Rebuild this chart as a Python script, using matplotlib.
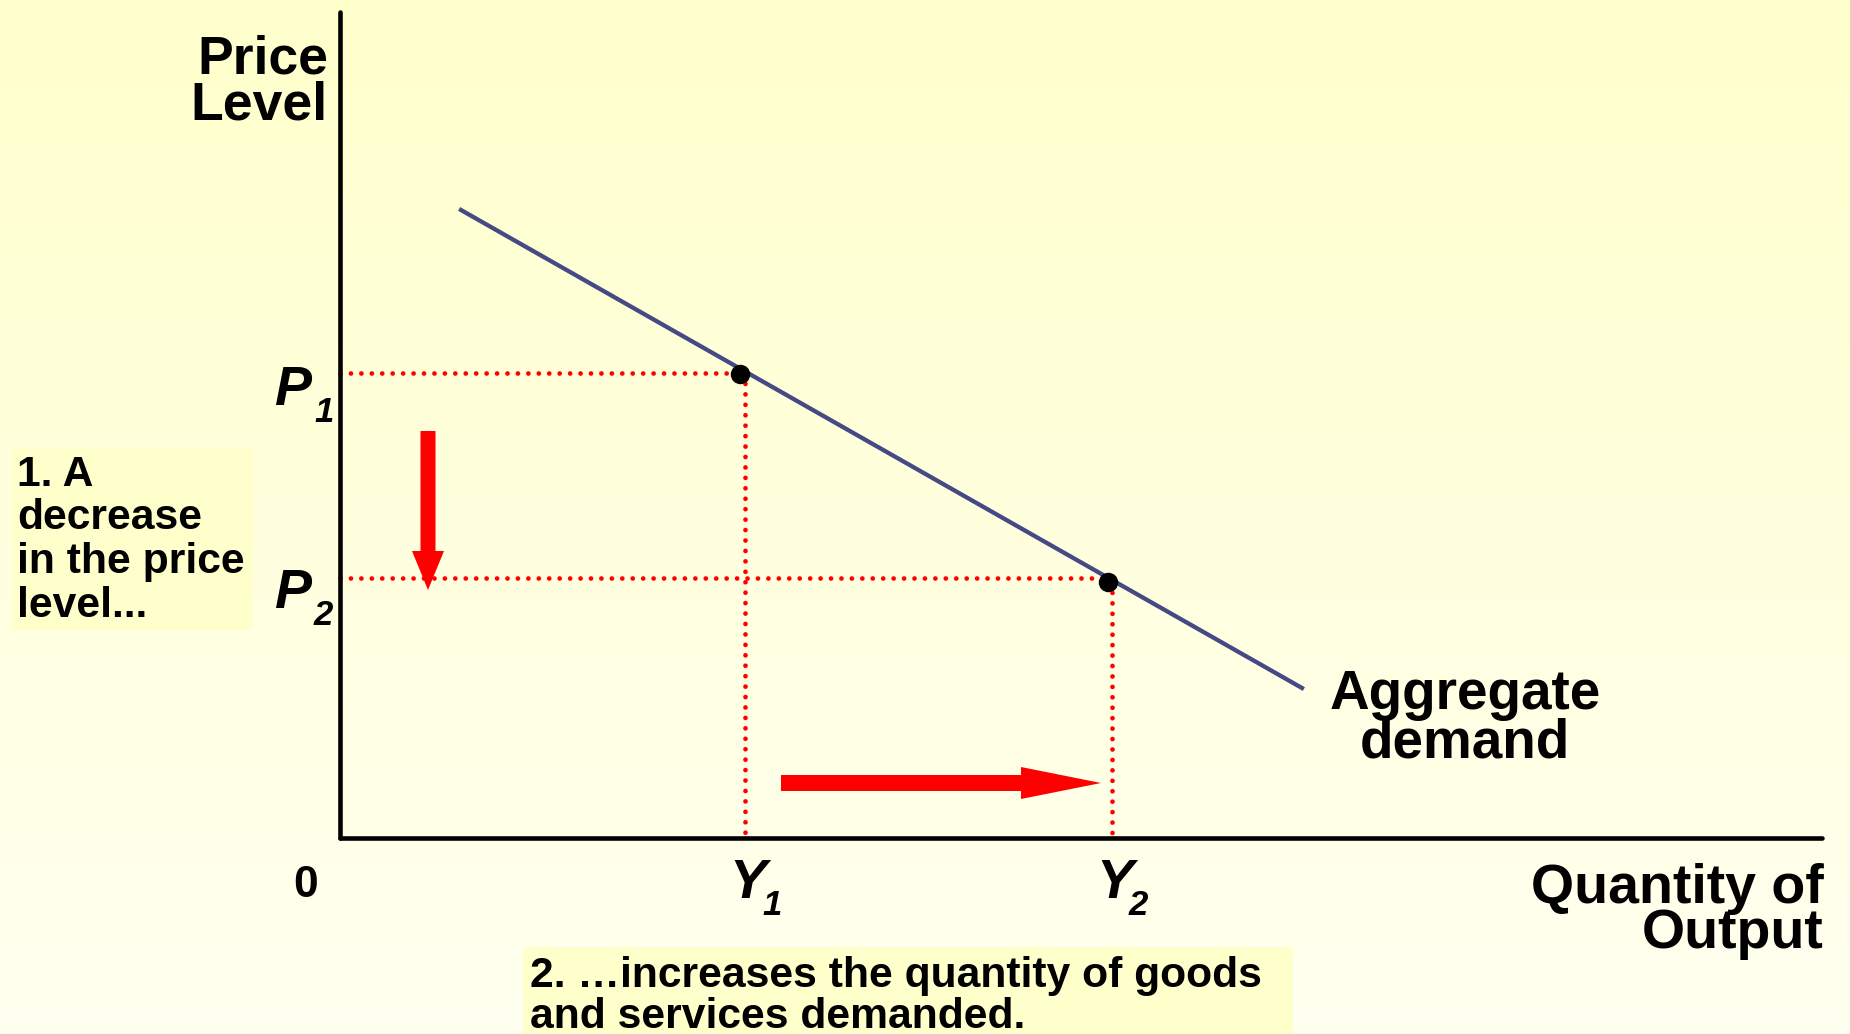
import numpy as np
import matplotlib
matplotlib.use("Agg")
import matplotlib.pyplot as plt
from matplotlib.patches import Rectangle

# ---------------- data (quantity / price units) ----------------
ad_q = [121, 962]          # aggregate demand line endpoints (quantity)
ad_p = [628, 150]          # aggregate demand line endpoints (price)
eq_q = [400, 768]          # equilibrium points on AD (quantity)
eq_p = [464, 256]          # equilibrium points on AD (price)
guide_q = [405, 772]       # Y1, Y2 guide positions
guide_p = [465, 260]       # P1, P2 guide positions
price_labels = ["1", "2"]
qty_labels = ["1", "2"]
down_arrow_q = [88, 88]    # arrow showing price fall
down_arrow_p = [407, 248]
right_arrow_q = [441, 761] # arrow showing quantity rise
right_arrow_p = [55, 55]
axis_q_max = 1482
axis_p_max = 826

FONT = ["Liberation Sans", "DejaVu Sans"]
plt.rcParams["font.family"] = FONT

fig = plt.figure(figsize=(18.5, 10.34), dpi=100)
ax = fig.add_axes([0, 0, 1, 1])
ax.set_xlim(-340, 1510)
ax.set_ylim(-196, 838)
ax.axis("off")

# background gradient
top = np.array([255, 255, 204]) / 255
bot = np.array([255, 255, 240]) / 255
t = np.linspace(0, 1, 256)[:, None]
grad = (top[None, :] * (1 - t) + bot[None, :] * t)[:, None, :]
ax.imshow(grad, extent=(-340, 1510, -196, 838), aspect="auto", zorder=0,
          origin="upper")

# axes
ax.plot([0, 0], [0, axis_p_max], color="black", lw=3.3, solid_capstyle="round", zorder=3)
ax.plot([0, axis_q_max], [0, 0], color="black", lw=3.3, solid_capstyle="round", zorder=3)

# dotted guides
dot_kw = dict(color="#FF0000", lw=3.4, linestyle=(0, (0.01, 2.2)),
              dash_capstyle="round", zorder=2)
ax.plot([0, eq_q[0]], [guide_p[0], guide_p[0]], **dot_kw)
ax.plot([0, eq_q[1]], [guide_p[1], guide_p[1]], **dot_kw)
ax.plot([guide_q[0], guide_q[0]], [guide_p[0], 0], **dot_kw)
ax.plot([guide_q[1], guide_q[1]], [eq_p[1], 0], **dot_kw)

# AD curve
ax.plot(ad_q, ad_p, color="#464A84", lw=3.1, zorder=4)
ax.plot(eq_q, eq_p, "o", color="black", markersize=13, zorder=5)

# arrows
ax.arrow(down_arrow_q[0], down_arrow_p[0], 0, down_arrow_p[1] - down_arrow_p[0],
         width=15, head_width=32, head_length=39, length_includes_head=True,
         color="#FF0000", lw=0, zorder=6)
ax.arrow(right_arrow_q[0], right_arrow_p[0], right_arrow_q[1] - right_arrow_q[0], 0,
         width=16, head_width=32, head_length=80, length_includes_head=True,
         color="#FF0000", lw=0, zorder=6)

# axis titles
ax.text(-12, 765, "Price", ha="right", va="baseline", fontsize=38.5, fontweight="bold")
ax.text(-12, 718, "Level", ha="right", va="baseline", fontsize=38.5, fontweight="bold")
ax.text(1484, -65, "Quantity of", ha="right", va="baseline", fontsize=40, fontweight="bold")
ax.text(1484, -110, "Output", ha="right", va="baseline", fontsize=40, fontweight="bold")
ax.text(1125, 129, "Aggregate", ha="center", va="baseline", fontsize=39.5, fontweight="bold")
ax.text(1125, 81, "demand", ha="center", va="baseline", fontsize=39.5, fontweight="bold")
ax.text(-47, -59, "0", ha="left", va="baseline", fontsize=32, fontweight="bold")

# P and Y labels with subscripts
it = dict(fontweight="bold", fontstyle="italic", va="baseline", ha="left")
p_base = [433, 230]
for lab, pb in zip(price_labels, p_base):
    ax.text(-66, pb, "P", fontsize=40, **it)
    ax.text(-26, pb - 17, lab, fontsize=25, **it)
y_left = [389, 756]
for lab, xl in zip(qty_labels, y_left):
    ax.text(xl, -60, "Y", fontsize=40, **it)
    ax.text(xl + 33, -77, lab, fontsize=25, **it)

# annotation boxes
ax.add_patch(Rectangle((-328, 208), 241, 183, facecolor="#FFFFCC", edgecolor="none", zorder=1))
for txt, yb in zip(["1. A", "decrease", "in the price", "level..."], [352, 309, 265, 221]):
    ax.text(-323, yb, txt, ha="left", va="baseline", fontsize=30.7, fontweight="bold", zorder=2)

ax.add_patch(Rectangle((183, -196), 770, 87, facecolor="#FFFFCC", edgecolor="none", zorder=1))
ax.text(190, -149, "2. \u2026increases the quantity of goods", ha="left", va="baseline",
        fontsize=30.7, fontweight="bold", zorder=2)
ax.text(190, -190, "and services demanded.", ha="left", va="baseline",
        fontsize=30.7, fontweight="bold", zorder=2)

fig.savefig("out.png", dpi=100)
